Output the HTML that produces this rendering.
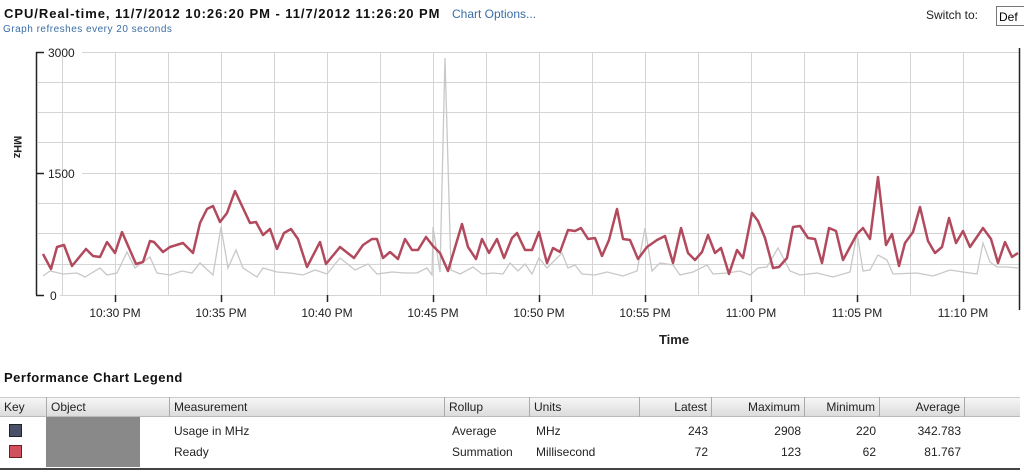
<!DOCTYPE html>
<html><head><meta charset="utf-8"><style>
body{margin:0;width:1024px;height:475px;background:#fff;overflow:hidden;font-family:"Liberation Sans",sans-serif;position:relative}
.a{position:absolute;white-space:nowrap}
.th{position:absolute;top:397px;height:20px;line-height:20px;font-size:12px;color:#222;border-right:1px solid #aaa;box-sizing:border-box;padding:0 4px}
.td{position:absolute;font-size:12px;color:#222}
</style></head><body>
<div class="a" style="left:4px;top:6px;font-size:13px;font-weight:bold;color:#111;letter-spacing:0.95px">CPU/Real-time, 11/7/2012 10:26:20 PM - 11/7/2012 11:26:20 PM</div>
<div class="a" style="left:452px;top:7px;font-size:12px;color:#3a6ea5">Chart Options...</div>
<div class="a" style="left:3px;top:24px;font-size:10px;color:#3a6ea5;letter-spacing:0.5px">Graph refreshes every 20 seconds</div>
<div class="a" style="left:926px;top:8px;font-size:12px;color:#222">Switch to:</div>
<div class="a" style="left:996px;top:6px;width:30px;height:20px;border:1px solid #777;font-size:12px;line-height:20px;padding-left:2px;box-sizing:border-box">Def</div>
<svg class="a" style="left:0;top:0" width="1024" height="360">
<g stroke="#d4d4d4" stroke-width="1">
<line x1="82" y1="52.5" x2="1019" y2="52.5"/>
<line x1="38" y1="82.5" x2="1019" y2="82.5"/><line x1="38" y1="112.5" x2="1019" y2="112.5"/><line x1="38" y1="142.5" x2="1019" y2="142.5"/>
<line x1="82" y1="173.5" x2="1019" y2="173.5"/>
<line x1="38" y1="203.5" x2="1019" y2="203.5"/><line x1="38" y1="233.5" x2="1019" y2="233.5"/><line x1="38" y1="264.5" x2="1019" y2="264.5"/>
<line x1="60" y1="295.5" x2="1019" y2="295.5"/>
<line x1="62.5" y1="52" x2="62.5" y2="295"/><line x1="115.5" y1="52" x2="115.5" y2="295"/><line x1="168.5" y1="52" x2="168.5" y2="295"/><line x1="221.5" y1="52" x2="221.5" y2="295"/><line x1="274.5" y1="52" x2="274.5" y2="295"/><line x1="327.5" y1="52" x2="327.5" y2="295"/><line x1="380.5" y1="52" x2="380.5" y2="295"/><line x1="433.5" y1="52" x2="433.5" y2="295"/><line x1="486.5" y1="52" x2="486.5" y2="295"/><line x1="539.5" y1="52" x2="539.5" y2="295"/><line x1="592.5" y1="52" x2="592.5" y2="295"/><line x1="645.5" y1="52" x2="645.5" y2="295"/><line x1="698.5" y1="52" x2="698.5" y2="295"/><line x1="751.5" y1="52" x2="751.5" y2="295"/><line x1="804.5" y1="52" x2="804.5" y2="295"/><line x1="857.5" y1="52" x2="857.5" y2="295"/><line x1="910.5" y1="52" x2="910.5" y2="295"/><line x1="963.5" y1="52" x2="963.5" y2="295"/>
</g>
<g stroke="#222" stroke-width="1.5">
<line x1="36.5" y1="52" x2="36.5" y2="295"/>
<line x1="36" y1="52.5" x2="44" y2="52.5"/><line x1="36" y1="173.5" x2="44" y2="173.5"/><line x1="36" y1="295.5" x2="44" y2="295.5"/>
<line x1="1019.5" y1="48" x2="1019.5" y2="310"/>
<line x1="115.5" y1="295" x2="115.5" y2="302"/><line x1="221.5" y1="295" x2="221.5" y2="302"/><line x1="327.5" y1="295" x2="327.5" y2="302"/><line x1="433.5" y1="295" x2="433.5" y2="302"/><line x1="539.5" y1="295" x2="539.5" y2="302"/><line x1="645.5" y1="295" x2="645.5" y2="302"/><line x1="751.5" y1="295" x2="751.5" y2="302"/><line x1="857.5" y1="295" x2="857.5" y2="302"/><line x1="963.5" y1="295" x2="963.5" y2="302"/>
</g>
<g font-family="Liberation Sans, sans-serif" font-size="12" fill="#222">
<text x="48" y="57">3000</text><text x="48" y="178">1500</text><text x="50" y="300">0</text>
<text x="14" y="147" font-weight="bold" transform="rotate(90 14 147)" text-anchor="middle" font-size="11">MHz</text>
<g text-anchor="middle"><text x="115" y="317">10:30 PM</text><text x="221" y="317">10:35 PM</text><text x="327" y="317">10:40 PM</text><text x="433" y="317">10:45 PM</text><text x="539" y="317">10:50 PM</text><text x="645" y="317">10:55 PM</text><text x="751" y="317">11:00 PM</text><text x="857" y="317">11:05 PM</text><text x="963" y="317">11:10 PM</text></g>
<text x="674" y="344" text-anchor="middle" font-weight="bold" font-size="13">Time</text>
</g>
<polyline fill="none" stroke="#c8c8c8" stroke-width="1.3" points="43,276 50,271 63,274 77,273 85,277 100,268 107,275 117,273 127,252 135,268 150,257 157,273 170,275 182,271 192,273 200,263 213,275 221,227 228,268 236,250 243,268 257,277 263,268 277,272 290,273 303,275 315,270 327,274 340,258 355,270 368,264 377,274 392,272 405,273 417,273 427,268 432,275 433,227 440,272 445,58 451,270 460,274 473,267 482,274 493,273 503,274 510,263 518,271 525,264 532,274 539,258 547,268 562,253 568,268 575,265 582,274 595,275 607,272 623,276 637,271 645,228 652,271 660,263 673,265 680,275 693,272 707,265 713,274 727,273 740,271 750,275 758,268 767,267 778,248 790,271 800,275 817,273 833,277 850,272 857,233 863,271 870,270 878,255 887,260 893,274 917,273 933,276 950,270 963,272 977,274 983,243 990,262 997,267 1007,267 1018,268"/>
<polyline fill="none" stroke="#b24a5e" stroke-width="2.5" stroke-linejoin="round" points="43,254 51,269 57,247 64,245 72,266 86,249 93,256 100,257 107,242 115,253 122,232 136,264 143,262 150,241 154,242 163,252 170,247 183,243 193,253 200,223 207,209 213,206 220,222 227,213 235,191 250,223 256,222 263,235 270,229 277,249 284,233 291,229 298,239 307,267 320,242 326,264 340,247 354,258 363,245 372,239 377,239 383,258 390,252 398,259 405,239 412,250 418,250 426,237 433,246 440,253 448,271 462,224 468,247 476,259 482,239 489,253 497,239 504,258 512,238 517,233 525,250 532,250 539,232 547,263 553,248 560,252 568,230 575,231 581,228 588,239 595,238 602,256 609,240 617,209 623,239 630,240 638,259 647,247 657,240 665,236 673,263 681,228 688,253 695,260 702,252 708,235 715,253 721,248 729,274 737,250 743,258 752,213 758,221 765,238 773,268 779,267 787,258 793,227 800,226 808,238 815,239 822,263 829,228 836,231 843,260 857,234 863,228 870,239 878,177 886,245 892,234 899,266 905,243 913,232 920,207 928,241 935,253 942,247 949,218 956,243 963,231 970,247 983,228 991,239 998,263 1005,242 1012,257 1018,253"/>
</svg>
<div class="a" style="left:4px;top:370px;font-size:13px;font-weight:bold;color:#111;letter-spacing:0.5px">Performance Chart Legend</div>
<div class="a" style="left:0;top:397px;width:1020px;height:20px;background:linear-gradient(#f6f6f6,#dcdcdc);border-top:1px solid #ccc;border-bottom:1px solid #bbb;box-sizing:border-box"></div>
<div class="th" style="left:0;width:47px">Key</div>
<div class="th" style="left:47px;width:123px">Object</div>
<div class="th" style="left:170px;width:275px">Measurement</div>
<div class="th" style="left:445px;width:85px">Rollup</div>
<div class="th" style="left:530px;width:110px">Units</div>
<div class="th" style="left:640px;width:72px;text-align:right">Latest</div>
<div class="th" style="left:712px;width:93px;text-align:right">Maximum</div>
<div class="th" style="left:805px;width:75px;text-align:right">Minimum</div>
<div class="th" style="left:880px;width:85px;text-align:right">Average</div>
<div class="a" style="left:46px;top:417px;width:94px;height:50px;background:#898989"></div>
<div class="a" style="left:9px;top:424px;width:11px;height:11px;background:#4a5068;border:1px solid #222"></div>
<div class="a" style="left:9px;top:445px;width:11px;height:11px;background:#d05060;border:1px solid #622"></div>
<div class="td" style="left:174px;top:424px">Usage in MHz</div>
<div class="td" style="left:174px;top:445px">Ready</div>
<div class="td" style="left:452px;top:424px">Average</div>
<div class="td" style="left:452px;top:445px">Summation</div>
<div class="td" style="left:536px;top:424px">MHz</div>
<div class="td" style="left:536px;top:445px">Millisecond</div>
<div class="td" style="left:640px;width:68px;text-align:right;top:424px">243</div>
<div class="td" style="left:640px;width:68px;text-align:right;top:445px">72</div>
<div class="td" style="left:712px;width:89px;text-align:right;top:424px">2908</div>
<div class="td" style="left:712px;width:89px;text-align:right;top:445px">123</div>
<div class="td" style="left:805px;width:71px;text-align:right;top:424px">220</div>
<div class="td" style="left:805px;width:71px;text-align:right;top:445px">62</div>
<div class="td" style="left:880px;width:81px;text-align:right;top:424px">342.783</div>
<div class="td" style="left:880px;width:81px;text-align:right;top:445px">81.767</div>
<div class="a" style="left:0;top:468px;width:1020px;height:2px;background:#444"></div>
</body></html>
